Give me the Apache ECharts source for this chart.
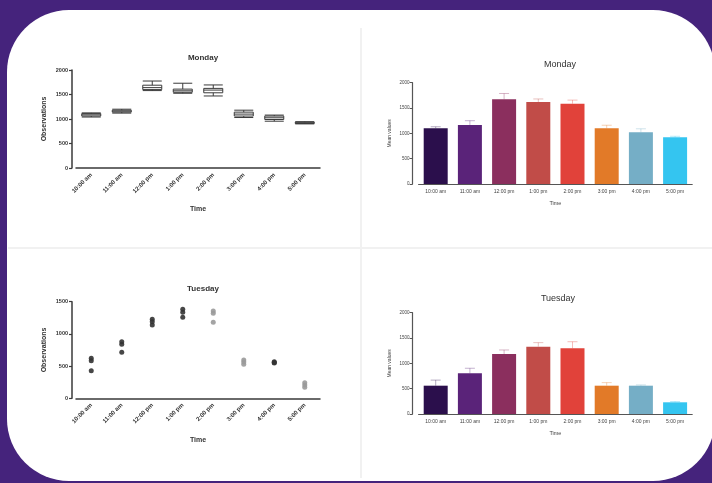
<!DOCTYPE html>
<html>
<head>
<meta charset="utf-8">
<script src="https://cdn.jsdelivr.net/npm/echarts@6/dist/echarts.min.js"></script>
<style>html,body{margin:0;padding:0;background:#45237c;}#c{width:712px;height:483px;}</style>
</head>
<body>
<div id="c"></div>
<script>
const categories = ['10:00 am','11:00 am','12:00 pm','1:00 pm','2:00 pm','3:00 pm','4:00 pm','5:00 pm'];
const barLabels = ['10:00 am','11:00 am','12:00 pm','1:00 pm','2:00 pm','3:00 pm','4:00 pm','5:00 pm'];
// Monday observations: [min, Q1, median, Q3, max]
const monBox = [
  [1040,1060,1085,1110,1125],
  [1120,1140,1160,1180,1200],
  [1580,1600,1640,1690,1775],
  [1525,1545,1575,1610,1730],
  [1470,1535,1590,1625,1695],
  [1030,1060,1100,1140,1180],
  [955,990,1025,1060,1080],
  [900,910,920,935,945]
];
// Tuesday observations (three replicates)
const tueRep1 = [621, 879, 1226, 1382, 1356, 595, 569, 243];
const tueRep2 = [584, 838, 1190, 1335, 1320, 563, 557, 207];
const tueRep3 = [429, 714, 1138, 1258, 1180, 528, 548, 171];
// Mean values and errors
const monMean = [1100, 1165, 1672, 1619, 1586, 1100, 1020, 922];
const monErr  = [30, 85, 115, 60, 70, 60, 70, 20];
const tueMean = [559, 803, 1184, 1329, 1297, 559, 559, 231];
const tueErr  = [110, 100, 80, 80, 130, 60, 15, 15];

const barColors = ['#2b0f4c','#5a2379','#8b2f5e','#c14c48','#e1423a','#e27a28','#75aec6','#34c5f0'];
const dotShade = ['#333','#333','#333','#333','#9a9a9a','#9a9a9a','#333','#9a9a9a'];

const chart = echarts.init(document.getElementById('c'), null, {renderer:'canvas'});
const FONT = 'Liberation Sans, Arial, sans-serif';
const plain = v => String(v);

function leftX(gi){
  return {
    type:'category', gridIndex:gi, data:categories,
    axisLine:{lineStyle:{color:'#3a3a3a', width:1.5}},
    axisTick:{alignWithLabel:true, length:4, lineStyle:{color:'#3a3a3a', width:1.2}},
    axisLabel:{rotate:45, fontSize:6, fontWeight:'bold', color:'#333', fontFamily:FONT, margin:6, interval:0},
    name:'Time', nameLocation:'middle', nameGap:38,
    nameTextStyle:{fontSize:7, fontWeight:'bold', color:'#333', fontFamily:FONT}
  };
}
function rightX(gi){
  return {
    type:'category', gridIndex:gi, data:barLabels,
    axisLine:{lineStyle:{color:'#555', width:1.2}},
    axisTick:{alignWithLabel:true, length:3, lineStyle:{color:'#555'}},
    axisLabel:{fontSize:5, color:'#444', fontFamily:FONT, margin:5, interval:0},
    name:'Time', nameLocation:'middle', nameGap:16,
    nameTextStyle:{fontSize:5.5, color:'#444', fontFamily:FONT}
  };
}
function leftY(gi, max){
  return {
    type:'value', gridIndex:gi, min:0, max:max, interval:500, offset:4,
    splitLine:{show:false},
    axisLine:{show:true, lineStyle:{color:'#3a3a3a', width:1.5}},
    axisTick:{show:true, length:3, lineStyle:{color:'#3a3a3a', width:1.2}},
    axisLabel:{fontSize:5.5, fontWeight:'bold', color:'#333', fontFamily:FONT, margin:4, formatter:plain},
    name:'Observations', nameLocation:'middle', nameGap:24,
    nameTextStyle:{fontSize:7, fontWeight:'bold', color:'#333', fontFamily:FONT}
  };
}
function rightY(gi){
  return {
    type:'value', gridIndex:gi, min:0, max:2000, interval:500, offset:6,
    splitLine:{show:false},
    axisLine:{show:true, lineStyle:{color:'#555', width:1.2}},
    axisTick:{show:true, length:3, lineStyle:{color:'#555'}},
    axisLabel:{fontSize:4.5, color:'#444', fontFamily:FONT, margin:3, formatter:plain},
    name:'Mean values', nameLocation:'middle', nameGap:20,
    nameTextStyle:{fontSize:5, color:'#444', fontFamily:FONT}
  };
}
function errSeries(xi, yi, means, errs){
  return {
    type:'custom', xAxisIndex:xi, yAxisIndex:yi,
    data: means.map((m,i)=>[i, m, m+errs[i]]),
    z:1,
    renderItem:function(params, api){
      const i = api.value(0);
      const p0 = api.coord([i, api.value(1)]);
      const p1 = api.coord([i, api.value(2)]);
      const col = barColors[i];
      const w = 5;
      return {type:'group', children:[
        {type:'line', shape:{x1:p0[0],y1:p0[1],x2:p1[0],y2:p1[1]}, style:{stroke:col, lineWidth:1, opacity:0.35}},
        {type:'line', shape:{x1:p1[0]-w,y1:p1[1],x2:p1[0]+w,y2:p1[1]}, style:{stroke:col, lineWidth:1, opacity:0.35}}
      ]};
    }
  };
}

const scatterData = [];
[tueRep1, tueRep2, tueRep3].forEach(rep => rep.forEach((v,i)=>scatterData.push([i, v])));

const option = {
  backgroundColor:'#45237c',
  animation:false,
  graphic:[
    {type:'rect', z:-10, shape:{x:7, y:10, width:708, height:471, r:62}, style:{fill:'#ffffff'}},
    {type:'line', z:-9, shape:{x1:361, y1:28, x2:361, y2:478}, style:{stroke:'#f1f1f1', lineWidth:2}},
    {type:'line', z:-9, shape:{x1:8, y1:248, x2:712, y2:248}, style:{stroke:'#f1f1f1', lineWidth:2}}
  ],
  title:[
    {text:'Monday', left:198, top:49, textAlign:'center', textStyle:{fontSize:8, fontWeight:'bold', color:'#333', fontFamily:FONT}},
    {text:'Monday', left:555, top:55, textAlign:'center', textStyle:{fontSize:9, fontWeight:'normal', color:'#333', fontFamily:FONT}},
    {text:'Tuesday', left:198, top:280, textAlign:'center', textStyle:{fontSize:8, fontWeight:'bold', color:'#333', fontFamily:FONT}},
    {text:'Tuesday', left:553, top:289, textAlign:'center', textStyle:{fontSize:9, fontWeight:'normal', color:'#333', fontFamily:FONT}}
  ],
  grid:[
    {left:76, top:70, width:244, height:98},
    {left:418.6, top:82.7, width:273.6, height:101.3},
    {left:76, top:301.7, width:244, height:96.6},
    {left:418.6, top:312.7, width:273.6, height:101.3}
  ],
  xAxis:[leftX(0), rightX(1), leftX(2), rightX(3)],
  yAxis:[leftY(0,2000), rightY(1), leftY(2,1500), rightY(3)],
  series:[
    {type:'boxplot', xAxisIndex:0, yAxisIndex:0, data:monBox, boxWidth:[19,19],
     itemStyle:{color:'#ffffff', borderColor:'#3a3a3a', borderWidth:1}},
    {type:'bar', xAxisIndex:1, yAxisIndex:1, data:monMean, barWidth:24, z:2,
     itemStyle:{color:function(p){return barColors[p.dataIndex];}}},
    errSeries(1,1,monMean,monErr),
    {type:'scatter', xAxisIndex:2, yAxisIndex:2, data:scatterData, symbolSize:5,
     itemStyle:{color:function(p){return dotShade[p.data[0]];}, opacity:0.9}},
    {type:'bar', xAxisIndex:3, yAxisIndex:3, data:tueMean, barWidth:24, z:2,
     itemStyle:{color:function(p){return barColors[p.dataIndex];}}},
    errSeries(3,3,tueMean,tueErr)
  ]
};
chart.setOption(option);
</script>
</body>
</html>
